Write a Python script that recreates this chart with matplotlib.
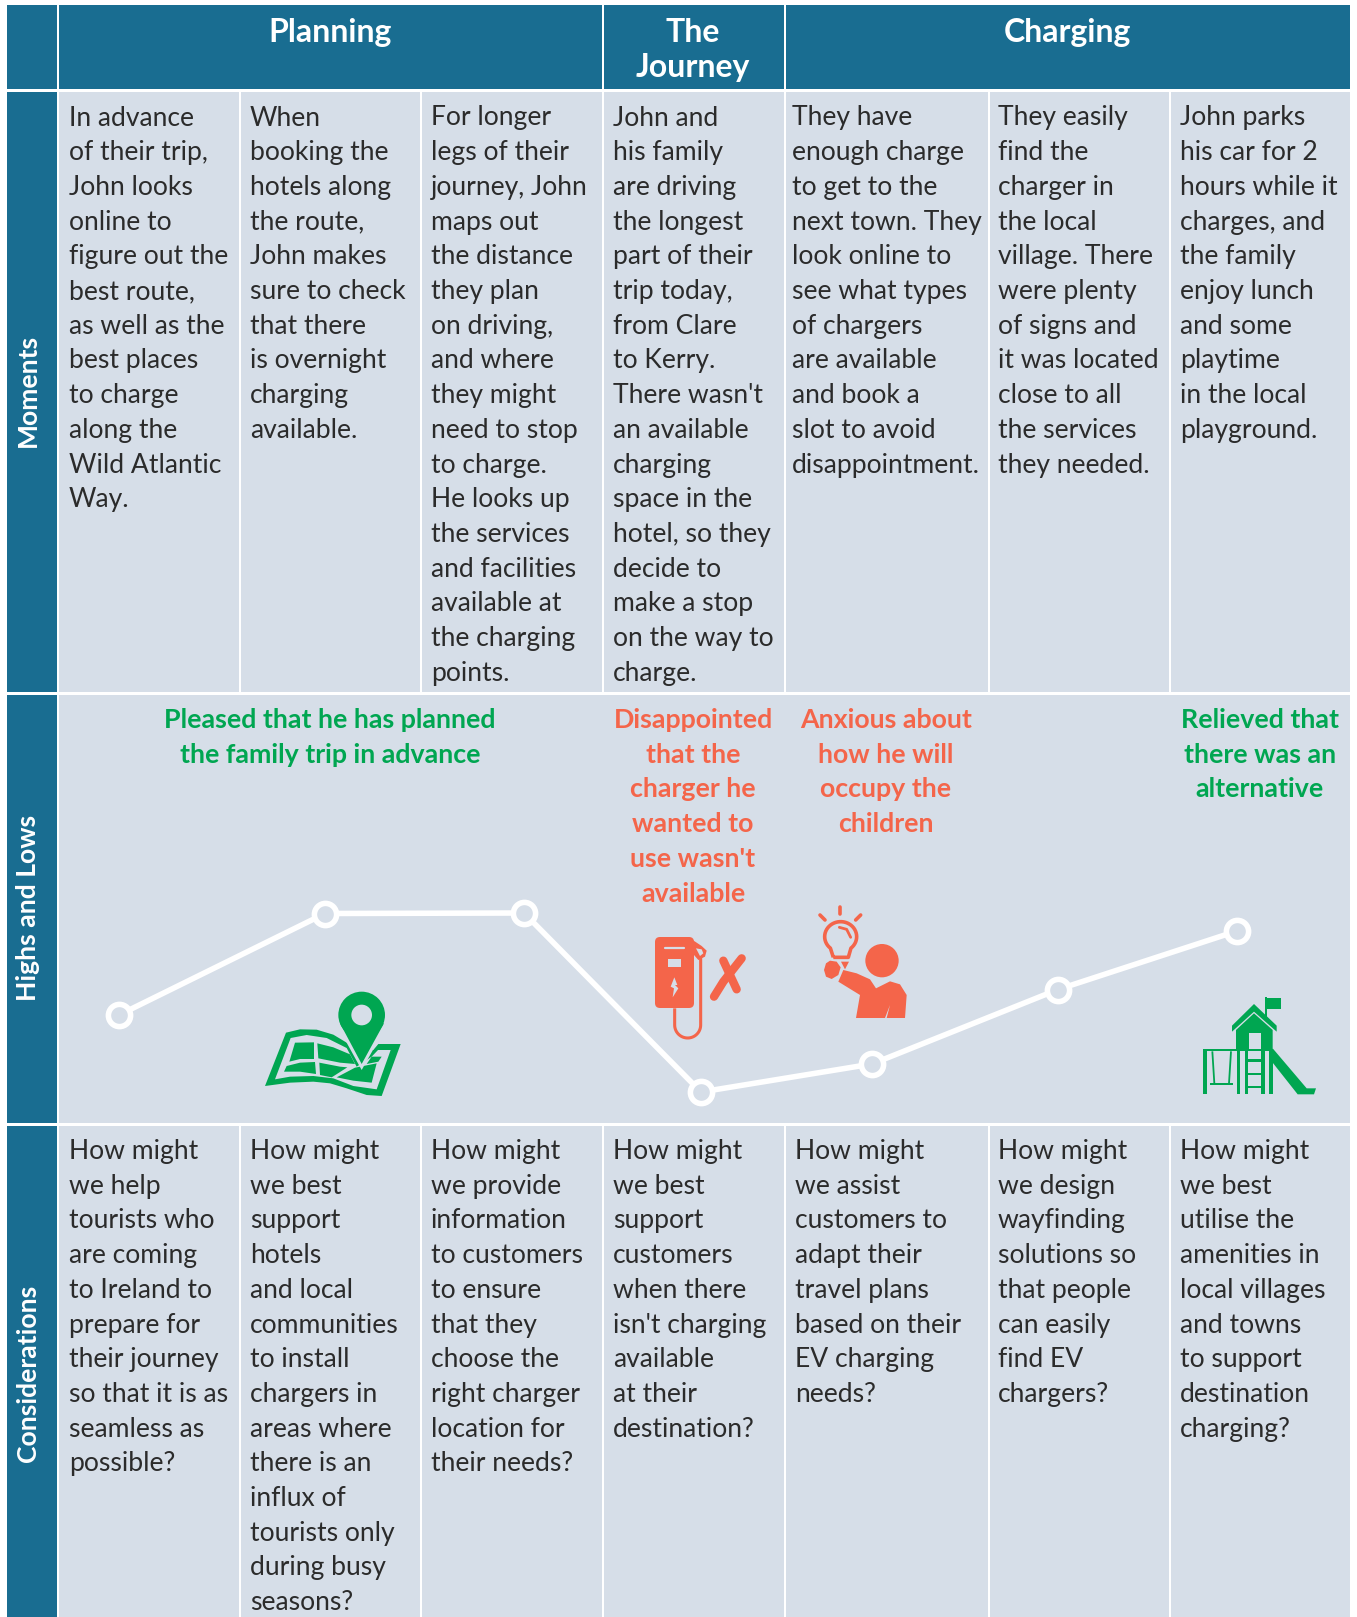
import matplotlib
matplotlib.use("Agg")
import matplotlib.pyplot as plt
from matplotlib.patches import Rectangle, Polygon, Circle, FancyBboxPatch
import numpy as np

stages = ["Planning", "The\nJourney", "Charging"]
row_names = ["Moments", "Highs and Lows", "Considerations"]

moments = [
    ["In advance", "of their trip,", "John looks", "online to", "figure out the", "best route,", "as well as the", "best places", "to charge", "along the", "Wild Atlantic", "Way."],
    ["When", "booking the", "hotels along", "the route,", "John makes", "sure to check", "that there", "is overnight", "charging", "available."],
    ["For longer", "legs of their", "journey, John", "maps out", "the distance", "they plan", "on driving,", "and where", "they might", "need to stop", "to charge.", "He looks up", "the services", "and facilities", "available at", "the charging", "points."],
    ["John and", "his family", "are driving", "the longest", "part of their", "trip today,", "from Clare", "to Kerry.", "There wasn't", "an available", "charging", "space in the", "hotel, so they", "decide to", "make a stop", "on the way to", "charge."],
    ["They have", "enough charge", "to get to the", "next town. They", "look online to", "see what types", "of chargers", "are available", "and book a", "slot to avoid", "disappointment."],
    ["They easily", "find the", "charger in", "the local", "village. There", "were plenty", "of signs and", "it was located", "close to all", "the services", "they needed."],
    ["John parks", "his car for 2", "hours while it", "charges, and", "the family", "enjoy lunch", "and some", "playtime", "in the local", "playground."],
]
considerations = [
    ["How might", "we help", "tourists who", "are coming", "to Ireland to", "prepare for", "their journey", "so that it is as", "seamless as", "possible?"],
    ["How might", "we best", "support", "hotels", "and local", "communities", "to install", "chargers in", "areas where", "there is an", "influx of", "tourists only", "during busy", "seasons?"],
    ["How might", "we provide", "information", "to customers", "to ensure", "that they", "choose the", "right charger", "location for", "their needs?"],
    ["How might", "we best", "support", "customers", "when there", "isn't charging", "available", "at their", "destination?"],
    ["How might", "we assist", "customers to", "adapt their", "travel plans", "based on their", "EV charging", "needs?"],
    ["How might", "we design", "wayfinding", "solutions so", "that people", "can easily", "find EV", "chargers?"],
    ["How might", "we best", "utilise the", "amenities in", "local villages", "and towns", "to support", "destination", "charging?"],
]
feelings = [
    ["Pleased that he has planned", "the family trip in advance"],
    ["Disappointed", "that the", "charger he", "wanted to", "use wasn't", "available"],
    ["Anxious about", "how he will", "occupy the", "children"],
    ["Relieved that", "there was an", "alternative"],
]
feeling_colors = ["#00A651", "#F4654A", "#F4654A", "#00A651"]
feeling_x = [330, 693, 886, 1260]

curve_x = [119, 325, 524, 701, 872, 1058, 1237]
curve_y = [1015, 913.5, 913, 1092, 1064, 989.5, 931]

HEAD = "#196D91"
CELL = "#D6DEE8"
TEXT = "#2B2B2B"
GREEN = "#00A651"
RED = "#F4654A"
plt.rcParams["font.family"] = ["Lato", "DejaVu Sans"]

fig = plt.figure(figsize=(13.57, 16.17), dpi=100)
ax = fig.add_axes([0, 0, 1, 1])
ax.set_xlim(0, 1357)
ax.set_ylim(1617, 0)
ax.axis("off")


def box(x0, y0, x1, y1, color):
    ax.add_patch(Rectangle((x0, y0), x1 - x0, y1 - y0, fc=color, ec="none", zorder=1))


# left strip and header
box(6.5, 5, 57, 89, HEAD)
box(6.5, 92, 57, 692, HEAD)
box(6.5, 695, 57, 1123, HEAD)
box(6.5, 1126, 57, 1617, HEAD)
box(59, 5, 602, 89, HEAD)
box(604, 5, 783.5, 89, HEAD)
box(785.5, 5, 1350, 89, HEAD)

cols = [59, 241, 422, 604, 785.5, 990, 1171, 1350]
for i in range(7):
    x0 = cols[i]
    x1 = cols[i + 1] - 2 if i < 6 else cols[i + 1]
    box(x0, 92, x1, 692, CELL)
    box(x0, 1126, x1, 1617, CELL)
box(59, 695, 1350, 1123, CELL)

ax.text(330, 42, stages[0], color="white", fontsize=23, fontweight="bold", ha="center", va="baseline")
for j, s in enumerate(stages[1].split("\n")):
    ax.text(693, 42 + j * 34.6, s, color="white", fontsize=23, fontweight="bold", ha="center", va="baseline")
ax.text(1067, 42, stages[2], color="white", fontsize=23, fontweight="bold", ha="center", va="baseline")

for name, yc in zip(row_names, [390.5, 908, 1373]):
    ax.text(28, yc, name, color="white", fontsize=19.1, fontweight="bold", rotation=90, ha="center", va="center")

step = 34.7
moment_x = [69, 250, 431, 613, 792, 998, 1180]
consider_x = [69, 250, 431, 613, 795, 998, 1180]
for lines, x in zip(moments, moment_x):
    for j, s in enumerate(lines):
        ax.text(x, 125.5 + j * step, s, color=TEXT, fontsize=19.1, ha="left", va="baseline", zorder=3)
for lines, x in zip(considerations, consider_x):
    for j, s in enumerate(lines):
        ax.text(x, 1159 + j * step, s, color=TEXT, fontsize=19.1, ha="left", va="baseline", zorder=3)
for lines, x, c in zip(feelings, feeling_x, feeling_colors):
    for j, s in enumerate(lines):
        ax.text(x, 728 + j * step, s, color=c, fontsize=19.25, fontweight="bold", ha="center", va="baseline", zorder=3)

ax.plot(curve_x, curve_y, color="white", lw=4, zorder=4, solid_joinstyle="miter")
ax.plot(curve_x, curve_y, ls="none", marker="o", ms=16, mfc=CELL, mec="white", mew=4, zorder=5)


# icons, drawn in zoomed crop coordinates
def poly(pts, color, org, z=3):
    pts = [(org[0] + p[0] / 3, org[1] + p[1] / 3) for p in pts]
    ax.add_patch(Polygon(pts, closed=True, fc=color, ec="none", zorder=z))


def circ(c, r, color, org, z=3):
    ax.add_patch(Circle((org[0] + c[0] / 3, org[1] + c[1] / 3), r / 3, fc=color, ec="none", zorder=z))


def stroke(pts, color, org, lw, z=3, cap="butt"):
    xs = [org[0] + p[0] / 3 for p in pts]
    ys = [org[1] + p[1] / 3 for p in pts]
    ax.plot(xs, ys, color=color, lw=lw, zorder=z, solid_capstyle=cap, solid_joinstyle="round")


# map and pin
o = (240, 960)
poly([(138, 218), (180, 208), (230, 209), (280, 224), (320, 248), (400, 270), (415, 252), (482, 252), (425, 408),
      (380, 405), (320, 385), (270, 370), (220, 365), (150, 368), (75, 378)], GREEN, o)
poly([(152, 234), (200, 225), (260, 234), (320, 264), (350, 320), (395, 290), (414, 270), (452, 270), (410, 388),
      (340, 378), (280, 355), (220, 348), (150, 350), (105, 358)], CELL, o, 3.1)
poly([(165, 248), (222, 247), (222, 297), (180, 297), (148, 305)], GREEN, o, 3.2)
poly([(232, 250), (280, 262), (330, 283), (345, 312), (300, 308), (235, 295)], GREEN, o, 3.2)
poly([(140, 318), (180, 308), (225, 306), (228, 342), (180, 335), (132, 335)], GREEN, o, 3.2)
poly([(238, 308), (300, 320), (322, 322), (275, 352), (240, 345)], GREEN, o, 3.2)
poly([(345, 323), (410, 310), (395, 368), (340, 362), (290, 352)], GREEN, o, 3.2)
poly([(395, 290), (425, 290), (415, 305), (380, 312)], GREEN, o, 3.2)
# gap round the pin
poly([(288, 190), (444, 190), (365, 330)], CELL, o, 3.3)
poly([(300, 190), (432, 190), (365, 312)], GREEN, o, 3.4)
circ((365, 165), 70, GREEN, o, 3.4)
circ((365, 165), 31, CELL, o, 3.5)

# charger
o = (630, 890)
ax.add_patch(FancyBboxPatch((o[0] + 25, o[1] + 47), 39, 71, boxstyle="round,pad=0,rounding_size=5",
                            fc=RED, ec="none", zorder=3))
poly([(113, 208), (152, 208), (152, 230), (113, 230)], CELL, o, 3.2)
stroke([(105, 175), (163, 175)], CELL, o, 1.6, 3.2, "round")
poly([(133, 262), (142, 285), (135, 285), (145, 295), (128, 322), (132, 295), (122, 290)], CELL, o, 3.2)
poly([(185, 148), (215, 168), (230, 182), (225, 200), (205, 210), (192, 195)], RED, o)
poly([(198, 175), (215, 178), (220, 190), (210, 198)], CELL, o, 3.1)
t = np.linspace(np.pi, 0, 30)
hose = [(173 + 39 * np.cos(a), 405 + 39 * np.sin(a)) for a in t]
stroke([(134, 355)] + hose + [(212, 200)], RED, o, 2.2)
stroke([(252, 320), (280, 275), (335, 205)], RED, o, 6, 3, "round")
stroke([(280, 212), (300, 255), (320, 298)], RED, o, 6, 3, "round")

# person with bulb
bulb_pts = [(632 + 48 * np.cos(v), 140 + 45 * np.sin(v)) for v in np.linspace(np.radians(130), np.radians(410), 40)]
stroke([(610, 202)] + bulb_pts + [(655, 202), (610, 202)], RED, o, 2.6)
stroke([(628, 112), (650, 118), (662, 142)], RED, o, 2, 3, "round")
stroke([(630, 50), (630, 72)], RED, o, 2.6, 3, "round")
stroke([(570, 75), (585, 90)], RED, o, 2.6, 3, "round")
stroke([(692, 75), (677, 90)], RED, o, 2.6, 3, "round")
poly([(633, 215), (657, 215), (645, 238)], RED, o)
poly([(600, 212), (620, 215), (632, 232), (625, 255), (605, 267), (588, 260), (582, 240), (588, 220)], RED, o)
poly([(640, 240), (680, 250), (720, 268), (738, 295), (780, 274), (810, 283), (830, 315), (825, 384), (770, 384),
      (780, 345), (765, 384), (678, 384), (690, 315), (625, 275)], RED, o)
circ((756, 212), 50, RED, o)

# playground
o = (1180, 980)
g = GREEN
poly([(156, 155), (156, 137), (222, 72), (290, 137), (290, 155), (222, 95)], g, o)
poly([(168, 150), (222, 100), (278, 150), (278, 208), (168, 208)], g, o)
poly([(207, 160), (242, 160), (242, 208), (207, 208)], CELL, o, 3.1)
poly([(255, 50), (261, 50), (261, 110), (255, 110)], g, o)
poly([(261, 55), (303, 55), (303, 87), (261, 87)], g, o)
poly([(70, 207), (278, 207), (278, 214), (70, 214)], g, o)
for x0, x1 in [(70, 80), (170, 180), (194, 204), (244, 254), (268, 278)]:
    poly([(x0, 207), (x1, 207), (x1, 343), (x0, 343)], g, o)
for y in [238, 278, 318]:
    poly([(200, y), (248, y), (248, y + 7), (200, y + 7)], g, o)
stroke([(97, 214), (103, 310)], g, o, 1.3)
stroke([(153, 214), (147, 310)], g, o, 1.3)
poly([(89, 308), (160, 308), (160, 316), (89, 316)], g, o)
poly([(278, 205), (380, 325), (408, 325), (402, 343), (353, 343), (278, 248)], g, o)

fig.savefig("out.png", dpi=100, facecolor="white")
